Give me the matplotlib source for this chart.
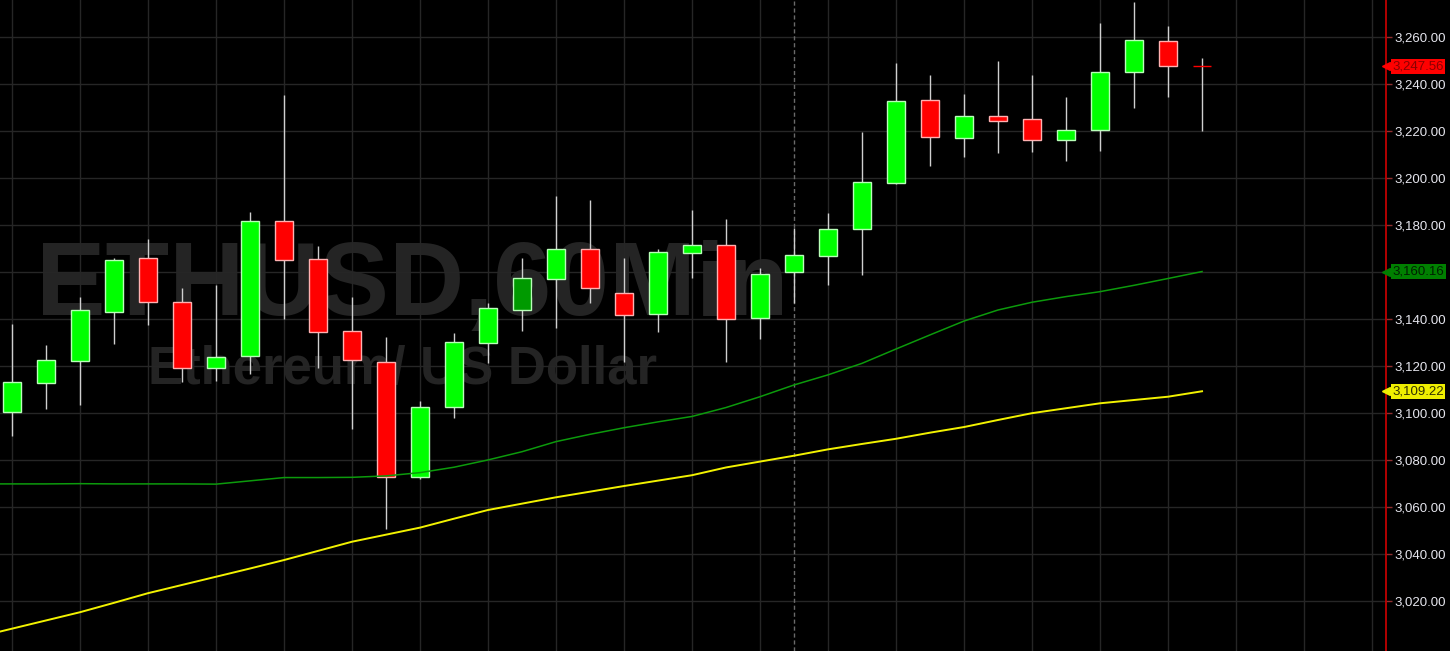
import numpy as np
import matplotlib.pyplot as plt
from matplotlib.ticker import FuncFormatter
from matplotlib.transforms import blended_transform_factory

# hourly candles, ETHUSD
opens  = [3100.4, 3112.9, 3122.3, 3142.9, 3165.8, 3147.1, 3119.0, 3124.3, 3181.6, 3165.4,
          3134.8, 3121.8, 3072.6, 3102.7, 3129.9, 3143.8, 3156.9, 3169.9, 3151.2, 3142.0,
          3168.2, 3171.5, 3140.3, 3160.0, 3166.9, 3178.3, 3197.7, 3233.1, 3216.9, 3226.4,
          3225.0, 3216.2, 3220.3, 3245.1, 3258.2, 3247.6]
highs  = [3137.9, 3128.9, 3149.2, 3165.8, 3174.0, 3153.1, 3154.5, 3185.5, 3235.3, 3171.1,
          3149.2, 3132.2, 3105.2, 3133.9, 3146.9, 3165.8, 3192.3, 3190.6, 3165.8, 3169.9,
          3186.4, 3182.4, 3161.6, 3178.6, 3185.2, 3219.6, 3249.1, 3244.0, 3235.7, 3249.8,
          3243.7, 3234.3, 3266.1, 3274.9, 3264.7, 3250.9]
lows   = [3090.2, 3101.8, 3103.4, 3129.5, 3137.6, 3113.3, 3113.6, 3116.5, 3139.9, 3119.0,
          3093.1, 3050.5, 3072.0, 3097.7, 3121.4, 3135.0, 3136.3, 3146.7, 3121.8, 3134.6,
          3157.6, 3121.8, 3131.5, 3146.7, 3154.5, 3158.7, 3197.5, 3205.2, 3209.1, 3210.8,
          3211.2, 3207.4, 3211.6, 3229.9, 3234.6, 3220.0]
closes = [3113.2, 3122.7, 3143.8, 3165.1, 3147.1, 3119.0, 3124.0, 3181.6, 3165.0, 3134.3,
          3122.6, 3072.9, 3102.7, 3130.1, 3144.5, 3157.3, 3169.9, 3153.1, 3141.6, 3168.5,
          3171.5, 3139.9, 3159.0, 3167.1, 3178.2, 3198.4, 3232.6, 3217.3, 3226.4, 3224.4,
          3216.0, 3220.4, 3245.2, 3258.6, 3247.5, 3247.56]

# moving averages, first value belongs to the candle just off the left edge
ma_fast = [3069.8, 3069.8, 3069.8, 3069.9, 3069.8, 3069.8, 3069.8, 3069.7, 3071.1, 3072.5,
           3072.5, 3072.6, 3073.2, 3074.6, 3076.9, 3080.0, 3083.5, 3087.8, 3090.9, 3093.7,
           3096.2, 3098.5, 3102.3, 3106.9, 3111.9, 3116.2, 3121.1, 3127.2, 3133.2, 3139.1,
           3143.8, 3147.1, 3149.5, 3151.6, 3154.3, 3157.2, 3160.16]
ma_slow = [3004.7, 3008.2, 3011.7, 3015.2, 3019.2, 3023.3, 3026.8, 3030.3, 3033.8, 3037.4,
           3041.3, 3045.2, 3048.2, 3051.2, 3055.0, 3058.7, 3061.4, 3064.1, 3066.5, 3068.9,
           3071.2, 3073.5, 3076.8, 3079.3, 3081.8, 3084.5, 3086.8, 3089.0, 3091.6, 3094.0,
           3097.0, 3099.9, 3102.0, 3104.1, 3105.5, 3106.9, 3109.22]

yticks = list(range(3020, 3261, 20))
session_break = 23
dark_candle = 15

o = np.array(opens)
c = np.array(closes)
x = np.arange(len(o))
up = c >= o

fig = plt.figure(figsize=(14.5, 6.51), dpi=100, facecolor='black')
ax = fig.add_axes([0, 0, 1386 / 1450, 1])
ax.set_facecolor('black')
ax.set_xlim(-0.353, 40.41)
ax.set_ylim(2998.7, 3275.7)

# watermark
ax.text(0.7, 3141.5, 'ETHUSD,60Min', fontsize=75, fontweight='bold',
        family='Liberation Sans', color='#242424', zorder=0)
ax.text(4.0, 3112.2, 'Ethereum/ US Dollar', fontsize=38, fontweight='bold',
        family='Liberation Sans', color='#242424', zorder=0)

# grid
for v in yticks:
    ax.axhline(v, color='#262626', lw=1, zorder=1)
for v in range(0, 41, 2):
    ax.axvline(v, color='#262626', lw=1, zorder=1)
ax.axvline(session_break, color='#6a6a6a', lw=1, ls=(0, (3, 2)), zorder=1)

# candles
ax.vlines(x, lows, highs, color='#cfcfcf', lw=1, zorder=2)
fills = np.where(up, '#00ff00', '#ff0000').astype(object)
edges = np.where(up, '#b8ffb8', '#ffb0b0').astype(object)
fills[dark_candle] = '#009a00'
edges[len(o) - 1] = '#ff0000'
ax.bar(x, np.abs(c - o), bottom=np.minimum(o, c), width=0.53,
       color=list(fills), edgecolor=list(edges), linewidth=1, zorder=3)

ma_x = np.arange(-1, len(o))
ax.plot(ma_x, ma_fast, color='#0c9a0c', lw=1.1, zorder=4)
ax.plot(ma_x, ma_slow, color='#f2f200', lw=1.4, zorder=4)

# right price axis
for s in ['left', 'top', 'bottom']:
    ax.spines[s].set_visible(False)
ax.spines['right'].set_color('#d00000')
ax.spines['right'].set_linewidth(1.2)
ax.set_xticks([])
ax.yaxis.tick_right()
ax.set_yticks(yticks)
ax.yaxis.set_major_formatter(FuncFormatter(lambda v, p: f'{v:,.2f}'))
ax.tick_params(axis='y', colors='#903030', length=4, width=1, pad=2,
               labelcolor='#e6e6ee', labelsize=9.5)
for lab in ax.get_yticklabels():
    lab.set_family('Liberation Sans')

tr = blended_transform_factory(ax.transAxes, ax.transData)
tags = [(closes[-1], '#ff0000', '#8a0000'),
        (ma_fast[-1], '#008000', '#002000'),
        (ma_slow[-1], '#eeee00', '#303000')]
for val, bg, fg in tags:
    ax.text(1.0045, val, f'{val:,.2f}', transform=tr, ha='left', va='center',
            fontsize=9.5, family='Liberation Sans', color=fg, clip_on=False,
            bbox=dict(boxstyle='square,pad=0.12', fc=bg, ec='none'), zorder=6)
    ax.plot([1.0], [val], marker='<', ms=6, color=bg, transform=tr,
            clip_on=False, zorder=6)

fig.savefig('out.png', dpi=100, facecolor='black')
